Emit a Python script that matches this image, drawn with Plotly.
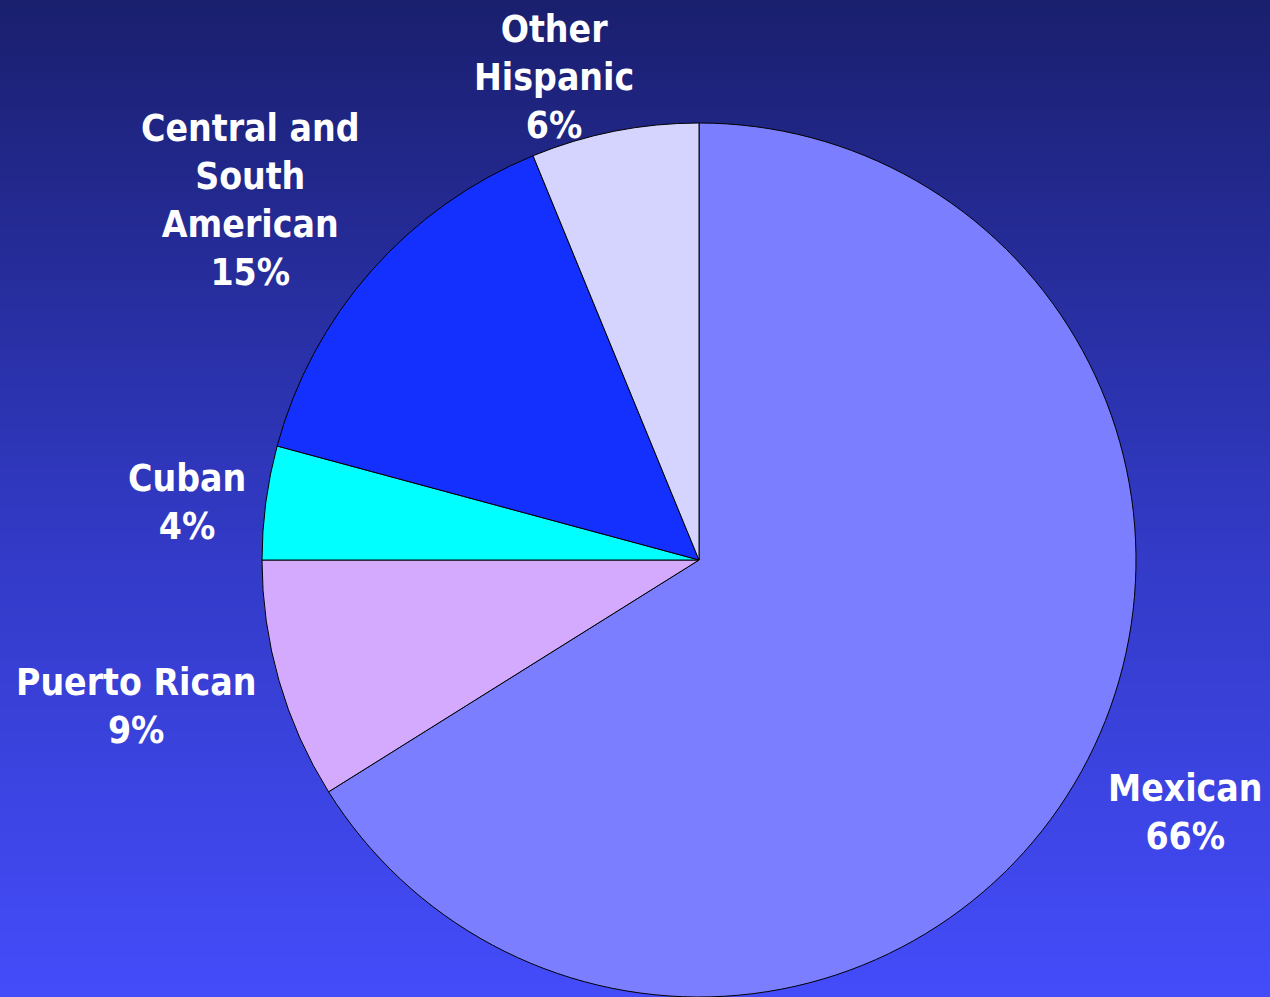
import math
import numpy as np
import plotly.graph_objects as go

# ---- data ----
categories = ["Mexican", "Puerto Rican", "Cuban", "Central and South American", "Other Hispanic"]
display_labels = ["Mexican", "Puerto Rican", "Cuban", "Central and<br>South<br>American", "Other<br>Hispanic"]
values = [66.1, 8.9, 4.2, 14.6, 6.2]

# ---- style ----
colors = ["#7B7FFF", "#D4AAFF", "#00FFFF", "#1430FF", "#D4D4FF"]
label_radius = [1.25, 1.33, 1.18, 1.32, 1.16]   # label distance / pie radius
label_nudge_deg = [-1.8, 1.7, -0.8, -2.5, -5.5]  # angular nudge of label position
label_dy = 3  # px downward shift of labels
W, H = 1270, 997
R = 437
cx = 699  # px from left
dom_x = [(cx - R) / W, (cx + R) / W]
dom_y = [0, 2 * R / H]
cy = H - (dom_y[0] + dom_y[1]) / 2 * H

fig = go.Figure()

# gradient background (heatmap spanning the whole paper)
n = 200
fig.add_trace(go.Heatmap(
    z=[[i] for i in range(n)],
    x=[0, 1],
    y=list(np.linspace(0, 1, n + 1)),
    colorscale=[[0, "#444CFA"], [0.5, "#3038C0"], [1, "#1A1F6E"]],
    showscale=False,
    hoverinfo="skip",
    xaxis="x", yaxis="y",
))

fig.add_trace(go.Pie(
    labels=categories,
    values=values,
    sort=False,
    direction="clockwise",
    rotation=0,
    marker=dict(colors=colors, line=dict(color="#000000", width=1)),
    textinfo="none",
    hoverinfo="skip",
    showlegend=False,
    domain=dict(x=dom_x, y=dom_y),
))

# labels placed from the slice angles
total = sum(values)
cum = 0.0
annotations = []
for v, lab, k, nd in zip(values, display_labels, label_radius, label_nudge_deg):
    mid = (cum + v / 2) / total * 360 + nd
    cum += v
    th = math.radians(mid)
    px = cx + R * k * math.sin(th)
    py = cy - R * k * math.cos(th) + label_dy
    pct = f"{round(v / total * 100)}%"
    annotations.append(dict(
        x=px / W, y=1 - py / H, xref="paper", yref="paper",
        text=f"{lab}<br>{pct}", showarrow=False,
        xanchor="center", yanchor="middle", align="center",
        font=dict(family="DejaVu Sans Condensed, DejaVu Sans", size=37, color="white", weight="bold"),
    ))

fig.update_layout(
    width=W, height=H,
    margin=dict(l=0, r=0, t=0, b=0),
    paper_bgcolor="#2A32A8",
    plot_bgcolor="rgba(0,0,0,0)",
    xaxis=dict(domain=[0, 1], range=[0, 1], visible=False, fixedrange=True),
    yaxis=dict(domain=[0, 1], range=[0, 1], visible=False, fixedrange=True),
    annotations=annotations,
    showlegend=False,
)

fig.write_html(
    "out.html",
    config={"displayModeBar": False},
    post_script="document.body.style.margin='0';document.body.style.overflow='hidden';",
)
